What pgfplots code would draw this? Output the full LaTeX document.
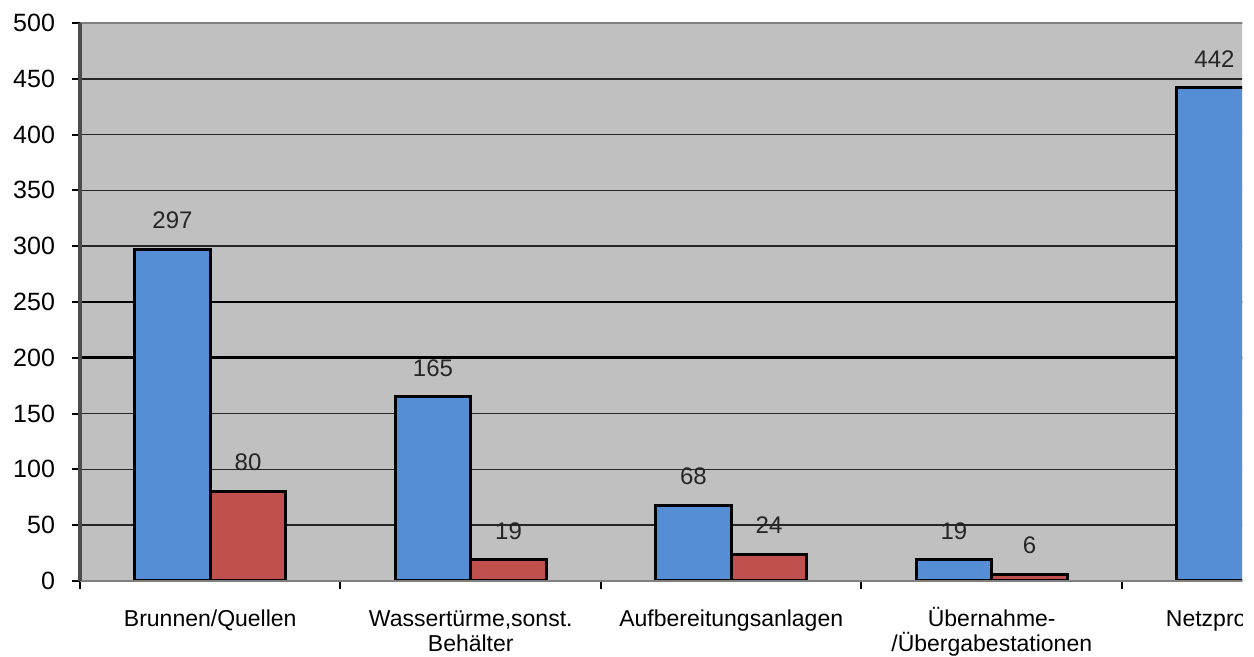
\documentclass[border=0pt]{standalone}
\usepackage{pgfplots}
\pgfplotsset{compat=1.18}
\usepackage{fontspec}
\setmainfont{Liberation Sans}
\definecolor{barblue}{HTML}{558ED5}
\definecolor{barred}{HTML}{C0504D}
\definecolor{plotgray}{HTML}{C0C0C0}
\begin{document}
\begin{tikzpicture}
\useasboundingbox (-40pt,-38pt) rectangle (587pt,290.5pt);
\clip (-40pt,-38pt) rectangle (581pt,290.5pt);
\begin{axis}[
  at={(0,0)}, anchor=south west,
  scale only axis, width=651.25pt, height=279pt,
  xmin=-0.5, xmax=4.5, ymin=0, ymax=500,
  clip=false,
  axis line style={draw=none},
  axis background/.style={fill=plotgray},
  ybar=0pt, bar width=0.29,
  tick pos=left,
  tick align=outside,
  major tick length=4pt,
  tick style={black, line width=1pt},
  xtick={-0.5,0.5,1.5,2.5,3.5,4.5}, xticklabels={},
  extra x ticks={0,1,2,3,4},
  extra x tick labels={\vphantom{Ü}Brunnen/Quellen, {\vphantom{Ü}Wassertürme,sonst.\\Behälter}, \vphantom{Ü}Aufbereitungsanlagen, {Übernahme-\\/Übergabestationen}, \vphantom{Ü}Netzprobestellen},
  extra x tick style={major tick length=0pt},
  xticklabel style={font=\fontsize{11.5}{12.5}\selectfont, align=center, anchor=north, inner sep=0pt, yshift=-13pt},
  ytick={0,50,...,500},
  yticklabel style={font=\fontsize{12.5}{14}\selectfont, xshift=-5pt},
  /pgf/number format/assume math mode=true,
  ymajorgrids,
  major grid style={black!85, line width=0.75pt},
  extra y ticks={200,250}, extra y tick labels={},
  extra y tick style={ymajorgrids, major grid style={black, line width=1.4pt}},
  nodes near coords,
  nodes near coords style={font=\fontsize{12}{14}\selectfont, color=black!85, anchor=south, inner sep=0pt, yshift=9.5pt},
]
\addplot[fill=barblue, draw=black, line width=1.5pt] coordinates {(0,297) (1,165) (2,68) (3,19) (4,442)};
\addplot[fill=barred, draw=black, line width=1.5pt] coordinates {(0,80) (1,19) (2,24) (3,6)};
\draw[black!50, line width=0.8pt] (rel axis cs:0,1) -- (rel axis cs:1,1);
\draw[black!50, line width=0.8pt] (rel axis cs:0,0) -- (rel axis cs:1,0);
\draw[black!70, line width=1.6pt] (rel axis cs:0,0) -- (rel axis cs:0,1);
\end{axis}
\end{tikzpicture}
\end{document}
